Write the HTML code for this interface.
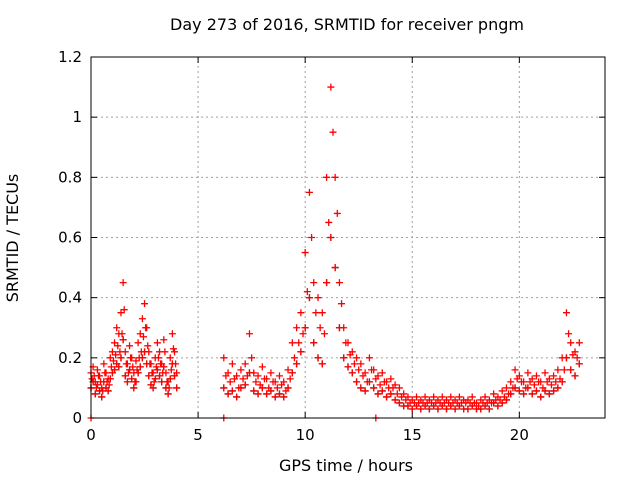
<!DOCTYPE html>
<html><head><meta charset="utf-8"><style>
body{margin:0;background:#fff;}
svg{font-family:"DejaVu Sans","Liberation Sans",sans-serif;}
</style></head><body>
<svg id="chart" width="640" height="480" viewBox="0 0 640 480">
<rect x="0" y="0" width="640" height="480" fill="#fff"/>
<text x="347" y="30" text-anchor="middle" font-size="16">Day 273 of 2016, SRMTID for receiver pngm</text>
<text x="346" y="471" text-anchor="middle" font-size="16">GPS time / hours</text>
<text x="18" y="238" text-anchor="middle" font-size="16" transform="rotate(-90 18 238)">SRMTID / TECUs</text>
<g id="grid"></g>
<g id="ticks"></g>
<g id="points"></g>
<rect x="91" y="57" width="514" height="361" fill="none" stroke="#000" stroke-width="1"/>
</svg>
<script>
const xTicks=[0,5,10,15,20];
const yTicks=[0,0.2,0.4,0.6,0.8,1,1.2];
const yTickLabels=["0","0.2","0.4","0.6","0.8","1","1.2"];
const times1=[0.0,0.1,0.2,0.3,0.4,0.5,0.6,0.7,0.8,0.9,1.0,1.1,1.2,1.3,1.4,1.5,1.6,1.7,1.8,1.9,2.0,2.1,2.2,2.3,2.4,2.5,2.6,2.7,2.8,2.9,3.0,3.1,3.2,3.3,3.4,3.5,3.6,3.7,3.8,3.9,4.0];
const high1=[0.15,0.17,0.12,0.16,0.14,0.10,0.18,0.15,0.13,0.20,0.22,0.25,0.30,0.28,0.35,0.45,0.22,0.18,0.24,0.20,0.15,0.19,0.25,0.28,0.33,0.38,0.30,0.22,0.18,0.15,0.20,0.25,0.22,0.18,0.26,0.15,0.12,0.20,0.28,0.22,0.15];
const low1=[0.10,0.12,0.08,0.11,0.09,0.07,0.12,0.10,0.09,0.13,0.15,0.16,0.18,0.17,0.20,0.26,0.14,0.12,0.16,0.13,0.10,0.12,0.15,0.17,0.20,0.22,0.18,0.14,0.11,0.10,0.13,0.16,0.14,0.12,0.17,0.10,0.08,0.13,0.18,0.14,0.10];
const timesMid1=[0.05,0.15,0.25,0.35,0.45,0.55,0.65,0.75,0.85,0.95,1.05,1.15,1.25,1.35,1.45,1.55,1.65,1.75,1.85,1.95,2.05,2.15,2.25,2.35,2.45,2.55,2.65,2.75,2.85,2.95,3.05,3.15,3.25,3.35,3.45,3.55,3.65,3.75,3.85,3.95];
const mid1=[0.13,0.14,0.10,0.14,0.12,0.09,0.15,0.12,0.11,0.17,0.19,0.21,0.24,0.22,0.28,0.36,0.18,0.15,0.20,0.17,0.12,0.16,0.20,0.22,0.27,0.30,0.24,0.18,0.15,0.12,0.17,0.20,0.18,0.15,0.22,0.12,0.10,0.16,0.23,0.18];
const times2=[6.2,6.4,6.6,6.8,7.0,7.2,7.4,7.6,7.8,8.0,8.2,8.4,8.6,8.8,9.0,9.2,9.4,9.6,9.8,10.0,10.2,10.4,10.6,10.8,11.0,11.2,11.4,11.6,11.8,12.0,12.2,12.4,12.6,12.8,13.0,13.2,13.4,13.6,13.8,14.0,14.2,14.4,14.6,14.8,15.0,15.2,15.4,15.6,15.8,16.0,16.2,16.4,16.6,16.8,17.0,17.2,17.4,17.6,17.8,18.0,18.2,18.4,18.6,18.8,19.0,19.2,19.4,19.6,19.8,20.0,20.2,20.4,20.6,20.8,21.0,21.2,21.4,21.6,21.8,22.0,22.2,22.4,22.6,22.8];
const high2=[0.20,0.15,0.18,0.14,0.16,0.18,0.28,0.15,0.14,0.17,0.13,0.15,0.12,0.14,0.12,0.16,0.25,0.30,0.35,0.55,0.75,0.45,0.40,0.35,0.80,1.10,0.80,0.45,0.30,0.25,0.22,0.20,0.18,0.15,0.20,0.16,0.14,0.15,0.12,0.13,0.11,0.10,0.08,0.07,0.06,0.07,0.06,0.07,0.06,0.07,0.06,0.07,0.06,0.07,0.06,0.07,0.06,0.06,0.07,0.05,0.06,0.07,0.06,0.08,0.07,0.09,0.10,0.12,0.16,0.14,0.12,0.15,0.13,0.14,0.12,0.15,0.13,0.14,0.16,0.20,0.35,0.25,0.22,0.25];
const low2=[0.10,0.08,0.09,0.07,0.10,0.11,0.15,0.09,0.08,0.10,0.08,0.09,0.07,0.08,0.07,0.10,0.15,0.18,0.22,0.30,0.40,0.25,0.20,0.18,0.45,0.60,0.50,0.30,0.20,0.17,0.15,0.12,0.10,0.09,0.12,0.10,0.08,0.09,0.07,0.08,0.06,0.05,0.04,0.04,0.03,0.04,0.03,0.04,0.03,0.04,0.03,0.04,0.03,0.04,0.03,0.04,0.03,0.03,0.04,0.03,0.03,0.04,0.03,0.05,0.04,0.05,0.06,0.08,0.10,0.09,0.08,0.10,0.08,0.09,0.07,0.09,0.08,0.09,0.10,0.12,0.20,0.16,0.14,0.18];
const timesMid2=[6.3,6.5,6.7,6.9,7.1,7.3,7.5,7.7,7.9,8.1,8.3,8.5,8.7,8.9,9.1,9.3,9.5,9.7,9.9,10.1,10.3,10.5,10.7,10.9,11.1,11.3,11.5,11.7,11.9,12.1,12.3,12.5,12.7,12.9,13.1,13.3,13.5,13.7,13.9,14.1,14.3,14.5,14.7,14.9,15.1,15.3,15.5,15.7,15.9,16.1,16.3,16.5,16.7,16.9,17.1,17.3,17.5,17.7,17.9,18.1,18.3,18.5,18.7,18.9,19.1,19.3,19.5,19.7,19.9,20.1,20.3,20.5,20.7,20.9,21.1,21.3,21.5,21.7,21.9,22.1,22.3,22.5,22.7];
const mid2=[0.14,0.12,0.13,0.10,0.13,0.14,0.20,0.12,0.11,0.13,0.10,0.12,0.10,0.11,0.09,0.13,0.20,0.25,0.28,0.42,0.60,0.35,0.30,0.28,0.65,0.95,0.68,0.38,0.25,0.21,0.18,0.16,0.14,0.12,0.16,0.13,0.11,0.12,0.10,0.10,0.08,0.07,0.06,0.05,0.05,0.05,0.05,0.05,0.05,0.05,0.05,0.05,0.05,0.05,0.05,0.05,0.05,0.05,0.05,0.04,0.05,0.05,0.05,0.06,0.06,0.07,0.08,0.10,0.13,0.12,0.10,0.12,0.11,0.12,0.10,0.12,0.11,0.12,0.13,0.16,0.28,0.21,0.20];
const zeroTimes=[0.0,6.2,13.3];
const zeroVals=[0,0,0];

const NS="http://www.w3.org/2000/svg";
const X0=91,X1=605,Y0=418,Y1=57,XMAX=24,YMAX=1.2;
function xs(t){return X0+(X1-X0)*t/XMAX;}
function ys(v){return Y0-(Y0-Y1)*v/YMAX;}
function mk(tag,attrs,parent){const e=document.createElementNS(NS,tag);for(const k in attrs)e.setAttribute(k,attrs[k]);parent.appendChild(e);return e;}
const grid=document.getElementById('grid'),ticks=document.getElementById('ticks'),pts=document.getElementById('points');
xTicks.forEach(t=>{
  const x=xs(t);
  if(t>0){const g=mk('line',{x1:x,y1:Y0,x2:x,y2:Y1,stroke:'#a0a0a0','stroke-dasharray':'2,3'},grid);
  
  }
  mk('line',{x1:x,y1:Y0,x2:x,y2:Y0-6,stroke:'#000'},ticks);
  mk('line',{x1:x,y1:Y1,x2:x,y2:Y1+6,stroke:'#000'},ticks);
  const l=mk('text',{x:x,y:Y0+22,'text-anchor':'middle','font-size':15},ticks);
  l.textContent=String(t);
  
  
});
yTicks.forEach((v,i)=>{
  const y=ys(v);
  if(v>0&&v<YMAX){const g=mk('line',{x1:X0,y1:y,x2:X1,y2:y,stroke:'#a0a0a0','stroke-dasharray':'2,3'},grid);
  
  }
  mk('line',{x1:X0,y1:y,x2:X0+6,y2:y,stroke:'#000'},ticks);
  mk('line',{x1:X1,y1:y,x2:X1-6,y2:y,stroke:'#000'},ticks);
  const l=mk('text',{x:X0-9,y:y+5,'text-anchor':'end','font-size':15},ticks);
  l.textContent=yTickLabels[i];
  
  
});
function plus(t,v,color){
  const x=xs(t),y=ys(v);
  const p=mk('path',{d:`M${x-3.5},${y}H${x+3.5}M${x},${y-3.5}V${y+3.5}`,stroke:color,'stroke-width':1.3,fill:'none'},pts);
  
  
}
function series(ts,vs,color){for(let i=0;i<Math.min(ts.length,vs.length);i++)plus(ts[i],vs[i],color);}
series(times1,low1,'#444');
series(times2,low2,'#444');
series(times1,high1,'#f00');
series(times1,low1,'#f00');
series(timesMid1,mid1,'#f00');
series(times2,high2,'#f00');
series(times2,low2,'#f00');
series(timesMid2,mid2,'#f00');
series(zeroTimes,zeroVals,'#f00');
</script>
</body></html>
